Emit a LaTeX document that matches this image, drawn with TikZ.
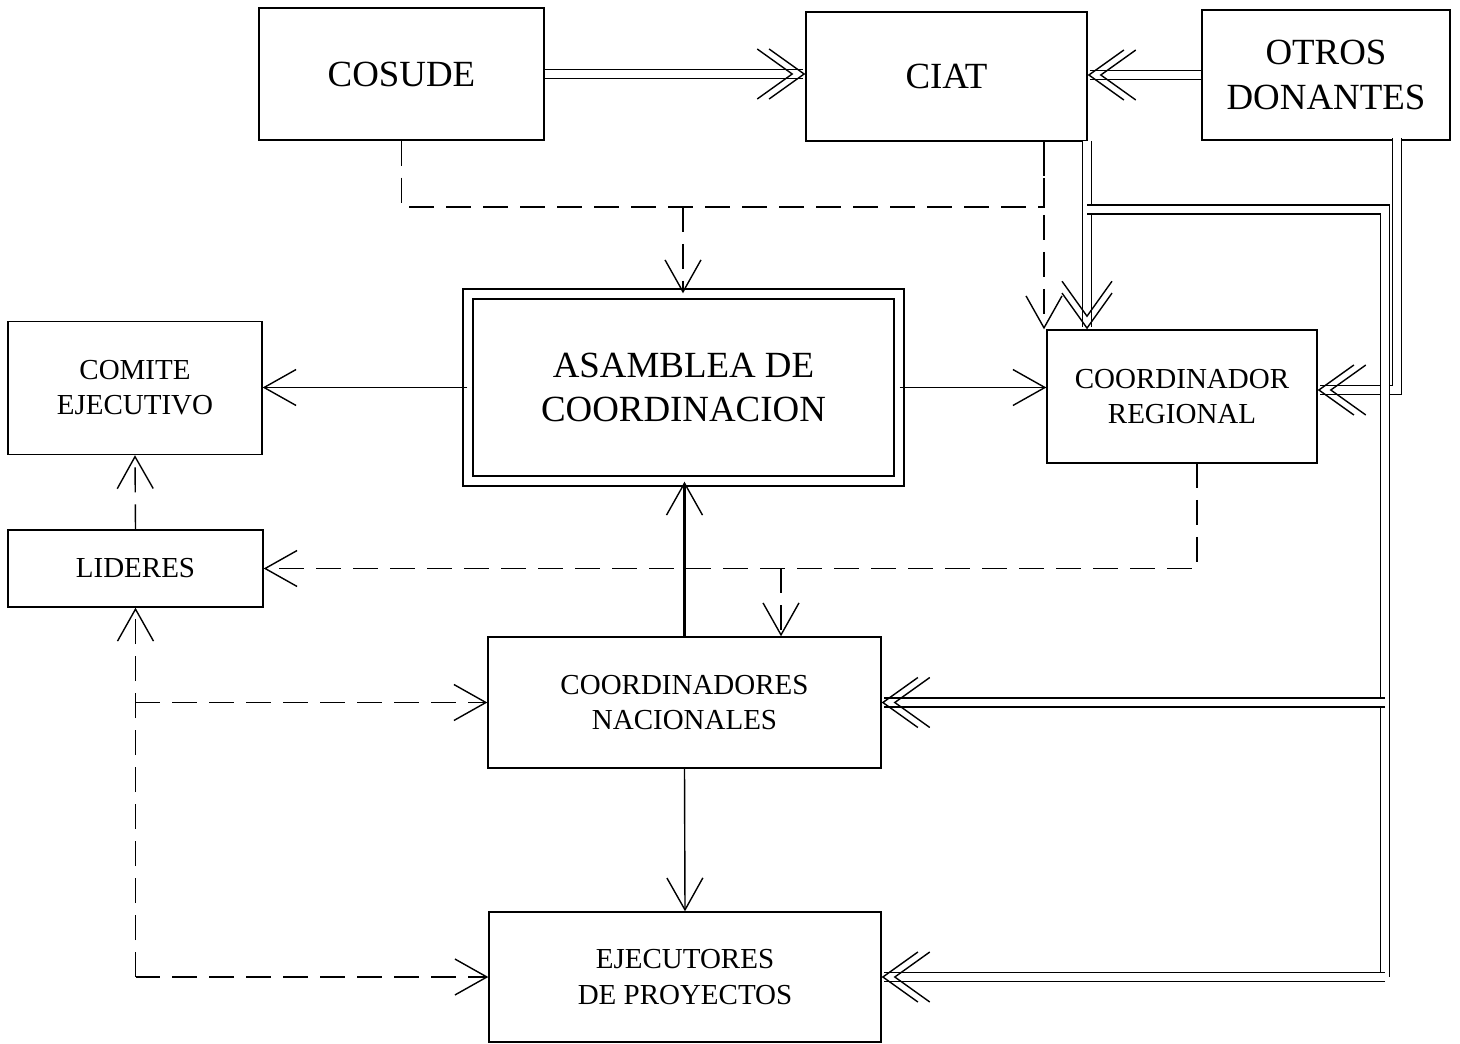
\documentclass[tikz,border=0pt]{standalone}
\usepackage{fontspec}
\setmainfont{Liberation Serif}
\usetikzlibrary{arrows.meta}

\tikzset{
	caja/.style={draw, line width=0.8pt, align=center, inner sep=0pt},
	grande/.style={font=\fontsize{21}{25.5}\selectfont},
	chica/.style={font=\fontsize{16.5}{20}\selectfont},
	flecha/.style={line width=0.8pt, -{Straight Barb[length=0.64cm, width=0.72cm, line width=0.8pt]}},
	guion/.style={flecha, dash pattern=on 0.5cm off 0.24cm},
	doblelinea/.style={double, double distance=0.145cm, line width=0.8pt},
	doble/.style={doblelinea, -{Straight Barb[length=0.7cm, width=1.0cm, sep=-0.5cm] Straight Barb[length=0.7cm, width=1.0cm]}},
}

\begin{document}
\begin{tikzpicture}[x=0.02cm, y=-0.02cm]
		\useasboundingbox (0,0) rectangle (1460,1044);

		\node[caja, grande, minimum width=5.7cm, minimum height=2.64cm] (cosude) at (401.5, 74) {COSUDE};
		\node[caja, grande, minimum width=5.62cm, minimum height=2.58cm] (ciat) at (946.5, 76.5) {CIAT};
		\node[caja, grande, minimum width=4.96cm, minimum height=2.6cm] (otros) at (1326, 75) {OTROS\\DONANTES};

		\node[caja, grande, double, double distance=0.17cm, minimum width=8.62cm, minimum height=3.74cm] (asamblea) at (683.5, 387.5) {ASAMBLEA DE\\COORDINACION};
		\node[caja, chica, minimum width=5.08cm, minimum height=2.66cm] (comite) at (135, 388) {COMITE\\EJECUTIVO};
		\node[caja, chica, minimum width=5.4cm, minimum height=2.66cm] (cr) at (1182, 396.5) {COORDINADOR\\REGIONAL};
		\node[caja, chica, minimum width=5.1cm, minimum height=1.54cm] (lideres) at (135.5, 568.5) {LIDERES};
		\node[caja, chica, minimum width=7.86cm, minimum height=2.62cm] (cn) at (684.5, 702.5) {COORDINADORES\\NACIONALES};
		\node[caja, chica, minimum width=7.84cm, minimum height=2.6cm] (ej) at (685, 977) {EJECUTORES\\DE PROYECTOS};

		% puntos de giro
		\coordinate (ciatB) at (1044, 141);
		\coordinate (ramaA) at (683, 207);
		\coordinate (ciatD) at (1087, 141);
		\coordinate (bajada) at (1385, 209.5);
		\coordinate (otrosB) at (1397, 138);
		\coordinate (otrosC) at (1397, 390);
		\coordinate (crL) at (1197, 463);
		\coordinate (ramaB) at (781, 568.5);

		% donantes
		\draw[doble] (cosude.east) -- (cosude.east -| ciat.west);
		\draw[doble] (otros.west) -- (otros.west -| ciat.east);
		\draw[doble] (otrosB) -- (otrosC) -- (otrosC -| cr.east);
		\draw[doble] (ciatD) -- (ciatD |- cr.north);
		\draw[doblelinea] (ciatD |- bajada) -- (bajada) -- (bajada |- ej.east);
		\draw[doble] (bajada |- ej.east) -- (ej.east);
		\draw[doble] (bajada |- cn.east) -- (cn.east);

		\draw[dash pattern=on 0.5cm off 0.24cm, line width=0.8pt] (cosude.south) |- (ciatB |- ramaA) -- (ciatB);
		\draw[guion] (ramaA) -- (ramaA |- asamblea.north);
		\draw[guion] (ciatB) -- (ciatB |- cr.north);

		% asamblea
		\draw[flecha] (asamblea.west) -- (asamblea.west -| comite.east);
		\draw[flecha] (asamblea.east) -- (asamblea.east -| cr.west);
		\draw[flecha, line width=2.2pt] (cn.north) -- (cn.north |- asamblea.south);
		\draw[flecha] (cn.south) -- (ej.north);

		\draw[guion] (crL) |- (lideres.east);
		\draw[guion] (ramaB) -- (ramaB |- cn.north);
		\draw[guion] (lideres.north) -- (comite.south);
		\draw[guion] (lideres.south |- ej.west) -- (lideres.south);
		\draw[guion] (lideres.south |- cn.west) -- (cn.west);
		\draw[guion] (lideres.south |- ej.west) -- (ej.west);
	\end{tikzpicture}
\end{document}
